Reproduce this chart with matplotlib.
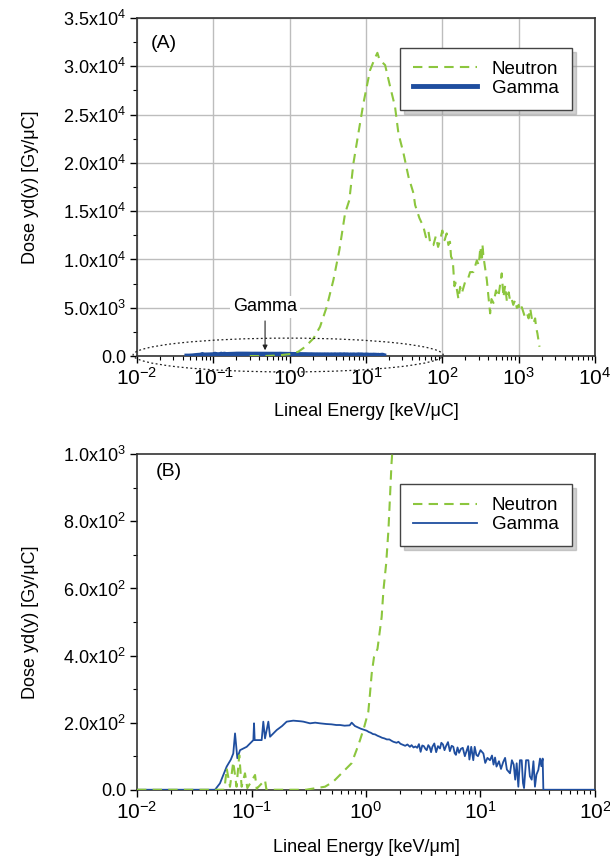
import matplotlib.pyplot as plt
from matplotlib.patches import Ellipse
from matplotlib.ticker import AutoMinorLocator, FixedLocator, FixedFormatter
import numpy as np

plt.rcParams['font.family'] = ['Liberation Sans', 'DejaVu Sans']
plt.rcParams['mathtext.fontset'] = 'custom'
plt.rcParams['mathtext.rm'] = 'Liberation Sans'

# --- data (A) ---
neutron_a_x = [0.30, 0.45, 0.7, 1.0, 1.3, 1.6, 2.05, 2.5, 3.06, 3.74, 4.48, 5.32, 6.05, 6.84,
               7.94, 9.25, 11.3, 13.0, 14.1, 15.0, 17.8, 20.7, 24.0, 26.6, 31.0, 36.0, 41.9,
               44.0, 50.0, 56.5, 61.0, 65.8, 70.0, 76.4, 82.0, 88.0, 93.5, 100, 107, 114,
               120, 126, 130, 137, 144, 150, 162.6, 171, 180, 199, 215, 231, 255, 283, 300,
               315, 330, 335, 346, 383, 402, 423, 440, 468, 505, 543, 600, 632, 665, 700,
               740, 774, 810, 850, 900, 946, 1000, 1050, 1100, 1200, 1280, 1350, 1416,
               1500, 1563, 1644, 1700, 1760, 1875]
neutron_a_y = [0, 0, 60, 200, 450, 960, 1830, 3030, 5100, 7870, 10980, 14780, 16150, 19950,
               23060, 26170, 29600, 30800, 31400, 30700, 30130, 27900, 25820, 23060, 20990,
               18570, 16850, 15640, 14300, 13390, 12300, 12900, 11500, 11490, 12400, 11300,
               12010, 13000, 12000, 12700, 11500, 11840, 10300, 9940, 7230, 7600, 5900, 7170,
               6500, 7690, 7900, 8690, 8700, 9900, 9400, 11300, 9800, 11600, 10280, 7870,
               6140, 4420, 5900, 5500, 6800, 6140, 8560, 6090, 7300, 5700, 6600, 5670, 5900,
               5300, 5800, 4980, 5300, 4700, 5060, 4100, 4450, 3900, 4940, 3700, 3390, 3900,
               2900, 2350, 960]

# --- data (B) ---
gamma_x = [0.01, 0.045, 0.048, 0.053, 0.0607, 0.066, 0.0693, 0.0718, 0.0752, 0.0794, 0.0908,
           0.1038, 0.1052, 0.1066, 0.1227, 0.1268, 0.1312, 0.1403, 0.1452, 0.166, 0.185,
           0.2028, 0.2317, 0.27, 0.2838, 0.3243, 0.36, 0.3963, 0.45, 0.5, 0.55, 0.593, 0.65,
           0.72, 0.75, 0.80, 0.9, 1.014, 1.06, 1.1, 1.15, 1.2, 1.26, 1.324, 1.38, 1.45, 1.52,
           1.6, 1.67, 1.734, 1.85, 1.92, 2.0, 2.1, 2.2, 2.3, 2.42, 2.5, 2.6, 2.7, 2.8, 2.9,
           3.0, 3.1, 3.2, 3.3, 3.39, 3.5, 3.6, 3.7, 3.8, 3.95, 4.1, 4.25, 4.43, 4.55, 4.7,
           4.85, 5.0, 5.2, 5.4, 5.6, 5.79, 5.95, 6.1, 6.3, 6.5, 6.75, 7.0, 7.3, 7.59, 7.8,
           8.0, 8.3, 8.65, 8.9, 9.2, 9.5, 10.0, 10.6, 11.0, 11.5, 12.1, 12.6, 13.0, 13.4,
           13.8, 14.5, 15.1, 15.8, 16.4, 17.0, 18.1, 18.8, 19.5, 20.1, 20.7, 21.4, 22.1,
           22.9, 23.5, 24.0, 25.0, 26.2, 27.0, 28.0, 29.0, 29.9, 30.8, 32.0, 33.1, 34.0,
           34.9, 35.4, 100]
gamma_y = [0, 0, 0, 19, 69, 90, 108, 168, 94, 118, 128,
           148, 198, 148, 148, 203, 153, 203, 158, 178, 190,
           203, 206, 204, 203, 198, 200, 198, 196, 195, 193, 193, 191,
           192, 200, 190, 182, 176, 172, 170, 166, 165, 161, 158, 155, 153, 150,
           150, 146, 143, 140, 143, 137, 134, 131, 135, 128, 133, 126, 129, 125, 136,
           113, 132, 130, 122, 118, 133, 127, 112, 128, 138, 112, 130, 123, 140, 135,
           118, 130, 142, 115, 131, 128, 109, 104, 126, 110, 122, 125, 100, 118, 130,
           90, 128, 88, 128, 104, 100, 118, 108, 80, 95, 88, 102, 75, 96,
           69, 85, 62, 83, 95, 60, 49, 88, 75, 30, 79, 9, 88,
           88, 20, 5, 88, 88, 40, 30, 85, 9, 45, 59, 93, 70,
           93, 0, 0]

neutron_b_x = [0.01, 0.058, 0.0607, 0.0649, 0.0693, 0.074, 0.0782, 0.082, 0.0877, 0.092,
               0.1074, 0.111, 0.1312, 0.135, 0.3, 0.3243, 0.4385, 0.5176, 0.612, 0.748,
               0.826, 0.887, 0.966, 1.047, 1.084, 1.122, 1.175, 1.26, 1.37, 1.42, 1.50,
               1.57, 1.62, 1.67, 1.73]
neutron_b_y = [0, 0, 64, 9, 83, 9, 103, 9, 49, 5,
               44, 3, 29, 0, 0, 2, 9, 24, 49, 79,
               118, 148, 188, 232, 287, 347, 396, 420, 515, 595, 674,
               774, 873, 972, 1050]

ticks_a = [0, 5000, 10000, 15000, 20000, 25000, 30000, 35000]
labels_a = ["0.0", "5.0x10$^3$", "1.0x10$^4$", "1.5x10$^4$", "2.0x10$^4$",
            "2.5x10$^4$", "3.0x10$^4$", "3.5x10$^4$"]
ticks_b = [0, 200, 400, 600, 800, 1000]
labels_b = ["0.0", "2.0x10$^2$", "4.0x10$^2$", "6.0x10$^2$", "8.0x10$^2$", "1.0x10$^3$"]

green = "#8cc63e"
blue = "#1f4e9f"

fig = plt.figure(figsize=(6.1, 8.6), dpi=100)
ax1 = fig.add_axes([0.2246, 0.586, 0.7508, 0.393])
ax2 = fig.add_axes([0.2246, 0.0817, 0.7508, 0.390])

gx = np.array(gamma_x)
gy = np.array(gamma_y)
m = (gx >= 0.045) & (gx <= 17)

ax1.plot(gx[m], gy[m], color=blue, lw=3.5, label="Gamma", zorder=3)
ax1.plot(neutron_a_x, neutron_a_y, color=green, lw=1.5, ls=(0, (4.5, 3)), label="Neutron", zorder=4)
ax1.set_xscale("log")
ax1.set_xlim(1e-2, 1e4)
ax1.set_ylim(0, 35000)
ax1.yaxis.set_major_locator(FixedLocator(ticks_a))
ax1.yaxis.set_major_formatter(FixedFormatter(labels_a))
ax1.yaxis.set_minor_locator(AutoMinorLocator(2))
ax1.grid(True, which="major", color="#bdbdbd", lw=1)
ax1.text(0.03, 0.925, "(A)", transform=ax1.transAxes, fontsize=14, va="center")
ax1.set_xlabel("Lineal Energy [keV/μC]", fontsize=13, labelpad=10)

ell = Ellipse((0.330, 0.003), 0.677, 0.10, transform=ax1.transAxes, fill=False,
              ls=(0, (1.5, 2)), lw=0.9, color="#222222", clip_on=False, zorder=5)
ax1.add_patch(ell)
ax1.annotate("Gamma", xy=(0.476, 600), xytext=(0.476, 4200),
             ha="center", va="bottom", fontsize=13,
             bbox=dict(boxstyle="square,pad=0.15", fc="white", ec="none"),
             arrowprops=dict(arrowstyle="-|>", color="#222222", lw=0.8,
                             mutation_scale=7, shrinkA=2, shrinkB=0))

ax2.plot(gamma_x, gamma_y, color=blue, lw=1.3, label="Gamma", zorder=3)
ax2.plot(neutron_b_x, neutron_b_y, color=green, lw=1.5, ls=(0, (4.5, 3)), label="Neutron", zorder=4)
ax2.set_xscale("log")
ax2.set_xlim(1e-2, 1e2)
ax2.set_ylim(0, 1000)
ax2.yaxis.set_major_locator(FixedLocator(ticks_b))
ax2.yaxis.set_major_formatter(FixedFormatter(labels_b))
ax2.yaxis.set_minor_locator(AutoMinorLocator(2))
ax2.text(0.04, 0.95, "(B)", transform=ax2.transAxes, fontsize=14, va="center")
ax2.set_xlabel("Lineal Energy [keV/μm]", fontsize=13, labelpad=12)

for ax in (ax1, ax2):
    for s in ax.spines.values():
        s.set_color("#333333")
        s.set_linewidth(1.2)
    ax.tick_params(which="major", direction="out", length=5, width=1, pad=3)
    ax.tick_params(axis="y", labelsize=13)
    ax.tick_params(axis="x", labelsize=15)
    ax.tick_params(which="minor", direction="out", length=3, width=0.8)
    ax.set_ylabel("Dose yd(y) [Gy/μC]", fontsize=13)
    ax.yaxis.set_label_coords(-0.215, 0.5)
    h, l = ax.get_legend_handles_labels()
    leg = ax.legend(h[::-1], l[::-1], loc="upper right", bbox_to_anchor=(0.97, 0.94),
                    fontsize=13.5, frameon=True, fancybox=False,
                    shadow={"color": "#999999", "alpha": 0.45, "ox": 3, "oy": -3},
                    handlelength=3.4, borderpad=0.7, labelspacing=0.1)
    leg.get_frame().set_edgecolor("#444444")
    leg.get_frame().set_linewidth(1)

fig.savefig("out.png", dpi=100)
